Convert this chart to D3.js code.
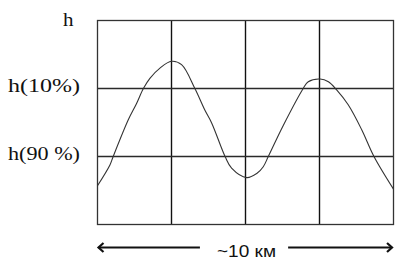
<!DOCTYPE html>
<html><head><meta charset="utf-8">
<script src="https://cdn.jsdelivr.net/npm/d3@7"></script>
<style>html,body{margin:0;padding:0;background:#fff;}svg{display:block;}</style>
</head><body>
<script>
// distance along profile, km (~10 km total)
const distKm = [0, 0.42, 0.53, 1.04, 1.32, 1.55, 1.77, 2.11, 2.5, 2.84, 3.29, 3.63, 3.86, 4.31, 4.53, 5.04, 5.38, 5.60, 5.77, 6.28, 6.95, 7.12, 7.52, 7.80, 8.08, 8.47, 8.93, 9.34, 10];
// height in grid units (h(90%) = 1, h(10%) = 2)
const height = [0.57, 0.875, 1.0, 1.54, 1.78, 2.0, 2.15, 2.30, 2.40, 2.35, 2.0, 1.68, 1.49, 1.0, 0.83, 0.69, 0.75, 0.85, 1.0, 1.46, 2.0, 2.10, 2.14, 2.10, 1.98, 1.76, 1.39, 1.0, 0.52];
const yTickValues = [1, 2];
const yTickLabels = ["h(90 %)", "h(10%)"];
const yTitle = "h";
const xGridValues = [2.5, 5, 7.5];
const xLabel = "~10 км";

const W = 404, H = 259;
const svg = d3.select("body").append("svg").attr("width", W).attr("height", H);
const x = d3.scaleLinear().domain([0, 10]).range([97.5, 393.5]);
const y = d3.scaleLinear().domain([0, 3]).range([224.5, 20.5]);

const gridColor = "#2a2a2a";
// grid
svg.selectAll(".vg").data(xGridValues).enter().append("line")
  .attr("x1", d => x(d)).attr("x2", d => x(d)).attr("y1", y(3)).attr("y2", y(0))
  .attr("stroke", "#111").attr("stroke-width", 1.4);
svg.selectAll(".hg").data(yTickValues).enter().append("line")
  .attr("x1", x(0)).attr("x2", x(10)).attr("y1", d => y(d)).attr("y2", d => y(d))
  .attr("stroke", gridColor).attr("stroke-width", 1.3);
// frame
svg.append("rect").attr("x", x(0)).attr("y", y(3)).attr("width", x(10) - x(0)).attr("height", y(0) - y(3))
  .attr("fill", "none").attr("stroke", "#333").attr("stroke-width", 1.3);

// curve
const line = d3.line().x((d, i) => x(distKm[i])).y((d, i) => y(height[i])).curve(d3.curveCatmullRom.alpha(0.5));
svg.append("path").datum(height).attr("d", line).attr("fill", "none").attr("stroke", "#333").attr("stroke-width", 1.1);

// y labels (serif, horizontally stretched like the reference)
function serifLabel(txt, xStart, base, len) {
  svg.append("text").attr("x", xStart).attr("y", base).text(txt)
    .attr("font-family", "Liberation Serif, Times New Roman, serif").attr("font-size", 19)
    .attr("fill", "#111").attr("textLength", len).attr("lengthAdjust", "spacingAndGlyphs");
}
serifLabel(yTitle, 63, 26, 10.5);
yTickValues.forEach((v, i) => {
  serifLabel(yTickLabels[i], 8, y(v) + 3.5, 72);
});

// distance arrows
const ay = 247.5;
const arr = svg.append("g").attr("stroke", "#111").attr("stroke-width", 2).attr("fill", "none");
arr.append("line").attr("x1", x(0) + 1).attr("x2", x(3.46)).attr("y1", ay).attr("y2", ay);
arr.append("path").attr("d", `M${x(0) + 6},${ay - 4.5} L${x(0) + 1},${ay} L${x(0) + 6},${ay + 4.5}`).attr("stroke-width", 2.2);
arr.append("line").attr("x1", x(6.44)).attr("x2", x(9.95)).attr("y1", ay).attr("y2", ay);
arr.append("path").attr("d", `M${x(9.95) - 5},${ay - 4.5} L${x(9.95)},${ay} L${x(9.95) - 5},${ay + 4.5}`).attr("stroke-width", 2.2);

svg.append("text").attr("x", x(5) + 1).attr("y", 256.5).attr("text-anchor", "middle").text(xLabel)
  .attr("font-family", "Liberation Sans, Arial, sans-serif").attr("font-size", 16).attr("fill", "#111")
  .attr("textLength", 59).attr("lengthAdjust", "spacingAndGlyphs");
</script>
</body></html>
